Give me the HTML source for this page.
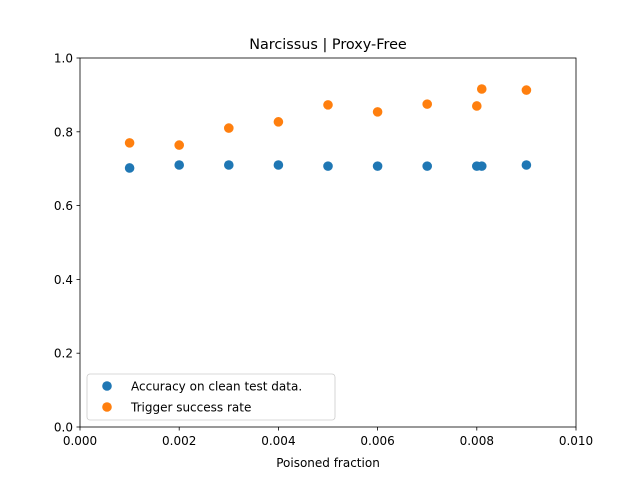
<!DOCTYPE html>
<html><head><meta charset="utf-8"><style>
body{margin:0;background:#fff;}
svg text{font-family:"DejaVu Sans","Liberation Sans",sans-serif;fill:#000;}
</style></head><body>
<svg id="chart" width="640" height="480" xmlns="http://www.w3.org/2000/svg">
<rect width="640" height="480" fill="#fff"/>
<text x="328" y="49" font-size="14.4" text-anchor="middle">Narcissus | Proxy-Free</text>
<g id="axes"></g>
<g id="marks"></g>
<rect x="80" y="58" width="496" height="369" fill="none" stroke="#000" stroke-width="0.8"/>
<text x="328" y="467" font-size="12" text-anchor="middle">Poisoned fraction</text>
<g>
<rect x="87" y="374" width="248" height="46" rx="3" fill="#fff" fill-opacity="0.8" stroke="#ccc" stroke-width="0.8"/>
<circle cx="107" cy="386" r="4.8" fill="#1f77b4"/>
<text x="131" y="390.5" font-size="12">Accuracy on clean test data.</text>
<circle cx="107" cy="407" r="4.8" fill="#ff7f0e"/>
<text x="131" y="411.5" font-size="12">Trigger success rate</text>
</g>
</svg>
<script>
const xValues=[0.001,0.002,0.003,0.004,0.005,0.006,0.007,0.008,0.0081,0.009];
const accuracy=[0.702,0.710,0.710,0.710,0.707,0.707,0.707,0.707,0.707,0.710];
const trigger=[0.770,0.764,0.810,0.827,0.873,0.854,0.875,0.870,0.916,0.913];
const xTicks=[0,0.002,0.004,0.006,0.008,0.010];
const xTickLabels=["0.000","0.002","0.004","0.006","0.008","0.010"];
const yTicks=[0,0.2,0.4,0.6,0.8,1.0];
const yTickLabels=["0.0","0.2","0.4","0.6","0.8","1.0"];
const NS="http://www.w3.org/2000/svg";
function sx(v){return 80+v/0.01*496;}
function sy(v){return 427-v*369;}
const axes=document.getElementById('axes');
const marks=document.getElementById('marks');
function mk(tag,attrs,parent){const e=document.createElementNS(NS,tag);for(const k in attrs)e.setAttribute(k,attrs[k]);parent.appendChild(e);return e;}
xTicks.forEach((t,i)=>{
  const l=mk('line',{x1:sx(t),x2:sx(t),y1:427,y2:430.5,stroke:'#000','stroke-width':0.8},axes);
  
  
  const tx=mk('text',{x:sx(t),y:445,'font-size':12,'text-anchor':'middle'},axes);
  tx.textContent=xTickLabels[i];
  
  
});
yTicks.forEach((t,i)=>{
  const l=mk('line',{x1:76.5,x2:80,y1:sy(t),y2:sy(t),stroke:'#000','stroke-width':0.8},axes);
  
  
  const tx=mk('text',{x:73,y:sy(t)+4.5,'font-size':12,'text-anchor':'end'},axes);
  tx.textContent=yTickLabels[i];
  
  
});
xValues.forEach((x,i)=>{
  const c=mk('circle',{cx:sx(x),cy:sy(accuracy[i]),r:4.8,fill:'#1f77b4'},marks);
  
  
});
xValues.forEach((x,i)=>{
  const c=mk('circle',{cx:sx(x),cy:sy(trigger[i]),r:4.8,fill:'#ff7f0e'},marks);
  
  
});
</script>
</body></html>
